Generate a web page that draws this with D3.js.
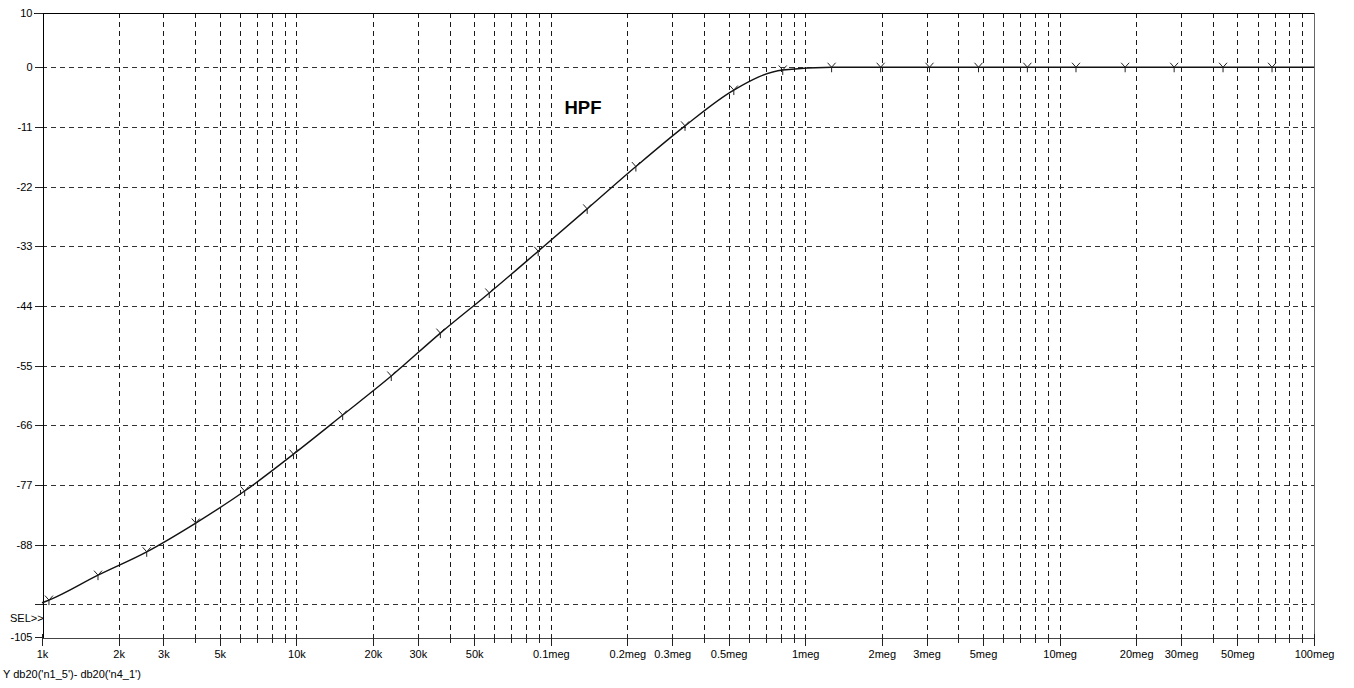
<!DOCTYPE html>
<html>
<head>
<meta charset="utf-8">
<script src="https://cdn.jsdelivr.net/npm/d3@7"></script>
<style>
  body { margin: 0; background: #fff; }
  svg text { font-family: "Liberation Sans Narrow", "Liberation Sans", Arial, sans-serif; font-size: 11px; fill: #000; }
</style>
</head>
<body>
<svg id="chart" width="1354" height="688"></svg>
<script>
// AC sweep: db20(n1_5) - db20(n4_1), high-pass response
const freqHz = [1e3, 1.065e3, 1.66e3, 2.58e3, 4.02e3, 6.26e3, 9.74e3, 15.2e3, 23.6e3, 36.8e3,
                57.3e3, 89.2e3, 139e3, 216e3, 337e3, 524e3, 816e3, 1.27e6, 1.98e6, 3.08e6,
                4.8e6, 7.47e6, 11.6e6, 18.1e6, 28.2e6, 43.9e6, 68.4e6, 100e6];
const gainDb = [-98.7, -98.2, -93.6, -89.3, -84.0, -78.1, -71.3, -64.1, -56.9, -49.0,
                -41.6, -33.9, -26.1, -18.3, -10.8, -4.2, -0.5, 0, 0, 0,
                0, 0, 0, 0, 0, 0, 0, 0];

// axis labels
const xLabelValues = [1e3, 2e3, 3e3, 5e3, 1e4, 2e4, 3e4, 5e4, 1e5, 2e5, 3e5, 5e5,
                      1e6, 2e6, 3e6, 5e6, 1e7, 2e7, 3e7, 5e7, 1e8];
const xLabelText = ["1k", "2k", "3k", "5k", "10k", "20k", "30k", "50k", "0.1meg", "0.2meg", "0.3meg", "0.5meg",
                    "1meg", "2meg", "3meg", "5meg", "10meg", "20meg", "30meg", "50meg", "100meg"];
const yTickValues = [10, 0, -11, -22, -33, -44, -55, -66, -77, -88, -99, -105];
const yTickText = ["10", "0", "-11", "-22", "-33", "-44", "-55", "-66", "-77", "-88", "", "-105"];
const yGridValues = [0, -11, -22, -33, -44, -55, -66, -77, -88, -99];
const traceLabel = "Y db20('n1_5')- db20('n4_1')";
const plotTitle = "HPF";

const svg = d3.select("#chart");
const x = d3.scaleLog().domain([1e3, 1e8]).range([42, 1314]);
const y = d3.scaleLinear().domain([-105, 10]).range([637, 13]);
const px = v => Math.round(v) + 0.5;

const data = freqHz.map((f, i) => ({ f, db: gainDb[i] }));

// grid
const grid = svg.append("g").attr("shape-rendering", "crispEdges");
const vTicks = x.ticks().filter(t => t > 1e3 && t < 1e8);
grid.selectAll("line.v").data(vTicks).join("line")
  .attr("x1", d => px(x(d))).attr("x2", d => px(x(d)))
  .attr("y1", y(10)).attr("y2", y(-105))
  .attr("stroke", "#1a1a1a").attr("stroke-dasharray", "5,4");
grid.selectAll("line.h").data(yGridValues).join("line")
  .attr("x1", x(1e3)).attr("x2", x(1e8))
  .attr("y1", d => px(y(d))).attr("y2", d => px(y(d)))
  .attr("stroke", "#333").attr("stroke-dasharray", "5,4");

// frame
const frame = svg.append("g").attr("shape-rendering", "crispEdges");
frame.append("line").attr("x1", 34).attr("x2", x(1e8)).attr("y1", px(y(10))).attr("y2", px(y(10))).attr("stroke", "#000");
frame.append("line").attr("x1", px(x(1e8))).attr("x2", px(x(1e8))).attr("y1", y(10)).attr("y2", y(-105)).attr("stroke", "#666");

// x axis
const labelFor = v => {
  const i = xLabelValues.findIndex(t => Math.abs(t - v) / v < 1e-6);
  return i >= 0 ? xLabelText[i] : "";
};
const xAxis = d3.axisBottom(x)
  .tickValues(x.ticks())
  .tickSizeInner(8).tickSizeOuter(0)
  .tickFormat(labelFor);
const gx = svg.append("g").attr("transform", `translate(0,${px(y(-105))})`).call(xAxis);
gx.select(".domain").attr("stroke", "#444").attr("shape-rendering", "crispEdges");
gx.selectAll(".tick line")
  .attr("y1", -4)
  .attr("y2", d => labelFor(d) ? 8 : 5)
  .attr("stroke", "#222")
  .attr("shape-rendering", "crispEdges");
gx.selectAll(".tick text").attr("y", 13).attr("dy", "0.71em");
gx.attr("font-family", null).attr("font-size", null);

// y axis
const yAxis = d3.axisLeft(y)
  .tickValues(yTickValues)
  .tickSizeInner(8).tickSizeOuter(0)
  .tickFormat((d, i) => yTickText[i]);
const gy = svg.append("g").attr("transform", `translate(${px(x(1e3))},0)`).call(yAxis);
gy.select(".domain").attr("stroke", "#000").attr("shape-rendering", "crispEdges");
gy.selectAll(".tick").attr("transform", d => `translate(0,${px(y(d))})`);
gy.selectAll(".tick line").attr("stroke", "#222").attr("shape-rendering", "crispEdges");
gy.selectAll(".tick text").attr("x", -10);
gy.attr("font-family", null).attr("font-size", null);

svg.append("text").attr("x", 10).attr("y", 622).text("SEL>>");

// trace
const line = d3.line()
  .x(d => x(d.f))
  .y(d => y(d.db))
  .curve(d3.curveMonotoneX);
svg.append("path").datum(data)
  .attr("d", line)
  .attr("fill", "none")
  .attr("stroke", "#111")
  .attr("stroke-width", 1.4);

// trace markers
svg.append("g").selectAll("path").data(data.slice(1, -1)).join("path")
  .attr("transform", d => `translate(${x(d.f)},${y(d.db)})`)
  .attr("d", "M-4,-4.5L0,0L4,-4.5M0,0V5")
  .attr("fill", "none")
  .attr("stroke", "#222")
  .attr("stroke-width", 1);

// title and trace name
svg.append("text").attr("x", 564.5).attr("y", 114)
  .style("font-family", "'Liberation Sans', Arial, sans-serif")
  .style("font-size", "18.5px").style("font-weight", "bold")
  .text(plotTitle);
svg.append("text").attr("x", 3).attr("y", 678).text(traceLabel);
</script>
</body>
</html>
